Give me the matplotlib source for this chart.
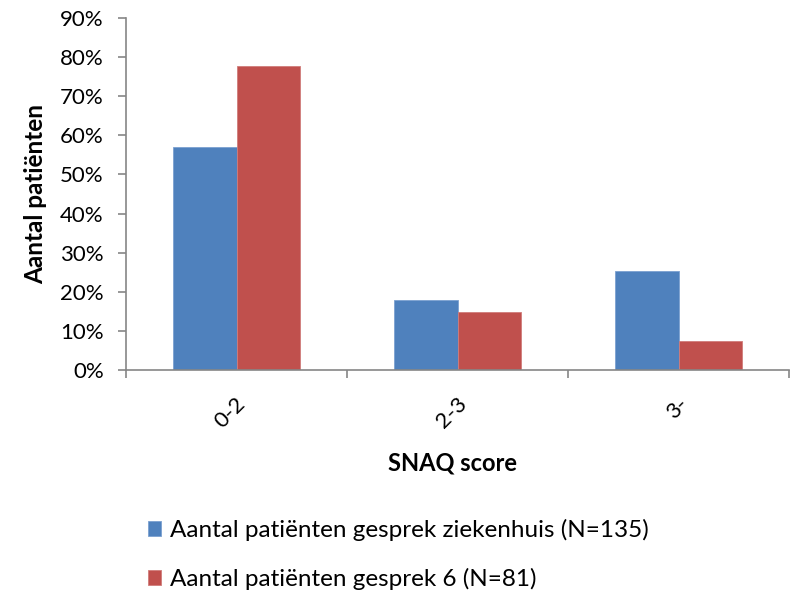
import matplotlib.pyplot as plt
import matplotlib.transforms as mtransforms
import numpy as np
from matplotlib.ticker import PercentFormatter

plt.rcParams["font.family"] = ["Lato", "DejaVu Sans"]

# ── DATA ────────────────────────────────────────────
categories = ["0-2", "2-3", "3-"]
ziekenhuis = [57.0, 17.8, 25.2]   # N=135
gesprek6 = [77.8, 14.8, 7.4]      # N=81
series_labels = ["Aantal patiënten gesprek ziekenhuis (N=135)",
                 "Aantal patiënten gesprek 6 (N=81)"]
colors = ["#4F81BD", "#C0504D"]
edge_colors = ["#7BA0D0", "#D07C7A"]

# ── PLOT ────────────────────────────────────────────
fig = plt.figure(figsize=(7.9, 5.94), dpi=100)
ax = fig.add_axes([126 / 790, 1 - 370 / 594, (789 - 126) / 790, (370 - 18) / 594])

x = np.arange(len(categories))
width = 1 / 3.5
bars = []
for i, vals in enumerate([ziekenhuis, gesprek6]):
    b = ax.bar(x + (i - 0.5) * width, vals, width, color=colors[i],
               edgecolor=edge_colors[i], linewidth=0.6, label=series_labels[i])
    bars.append(b)

ax.set_xlim(-0.5, len(categories) - 0.5)
ax.set_ylim(0, 90)
ax.set_yticks(np.arange(0, 91, 10))
ax.yaxis.set_major_formatter(PercentFormatter(decimals=0))

# category ticks sit between the groups
ax.set_xticks(np.arange(-0.5, len(categories)), minor=False)
ax.set_xticklabels([])
ax.set_xticks(x, minor=True)
ax.set_xticklabels(categories, minor=True, rotation=45, ha="right", va="center",
                   rotation_mode="anchor", fontsize=16)
ax.tick_params(axis="x", which="minor", length=0, pad=22)
ax.tick_params(axis="x", which="major", length=6, color="#868686", width=1.2)
ax.tick_params(axis="y", length=6, color="#868686", width=1.2, labelsize=16, pad=10)

# nudge the rotated labels a little to the right of the group centre
shift = mtransforms.ScaledTranslation(6 / 100, 0, fig.dpi_scale_trans)
for lbl in ax.get_xticklabels(minor=True):
    lbl.set_transform(lbl.get_transform() + shift)

for side in ["top", "right"]:
    ax.spines[side].set_visible(False)
for side in ["left", "bottom"]:
    ax.spines[side].set_color("#868686")
    ax.spines[side].set_linewidth(1.2)

ax.set_ylabel("Aantal patiënten", fontsize=17.5, fontweight="bold", labelpad=9)
fig.text(452 / 790, 1 - 463 / 594, "SNAQ score",
         fontsize=17, fontweight="bold", ha="center", va="center")

fig.legend(handles=bars, labels=series_labels, loc="upper left",
           bbox_to_anchor=(126 / 790, 1 - 497 / 594), frameon=False,
           fontsize=17.5, handlelength=0.55, handleheight=0.55,
           handletextpad=0.35, labelspacing=1.1)

plt.savefig("out.png", dpi=100)
